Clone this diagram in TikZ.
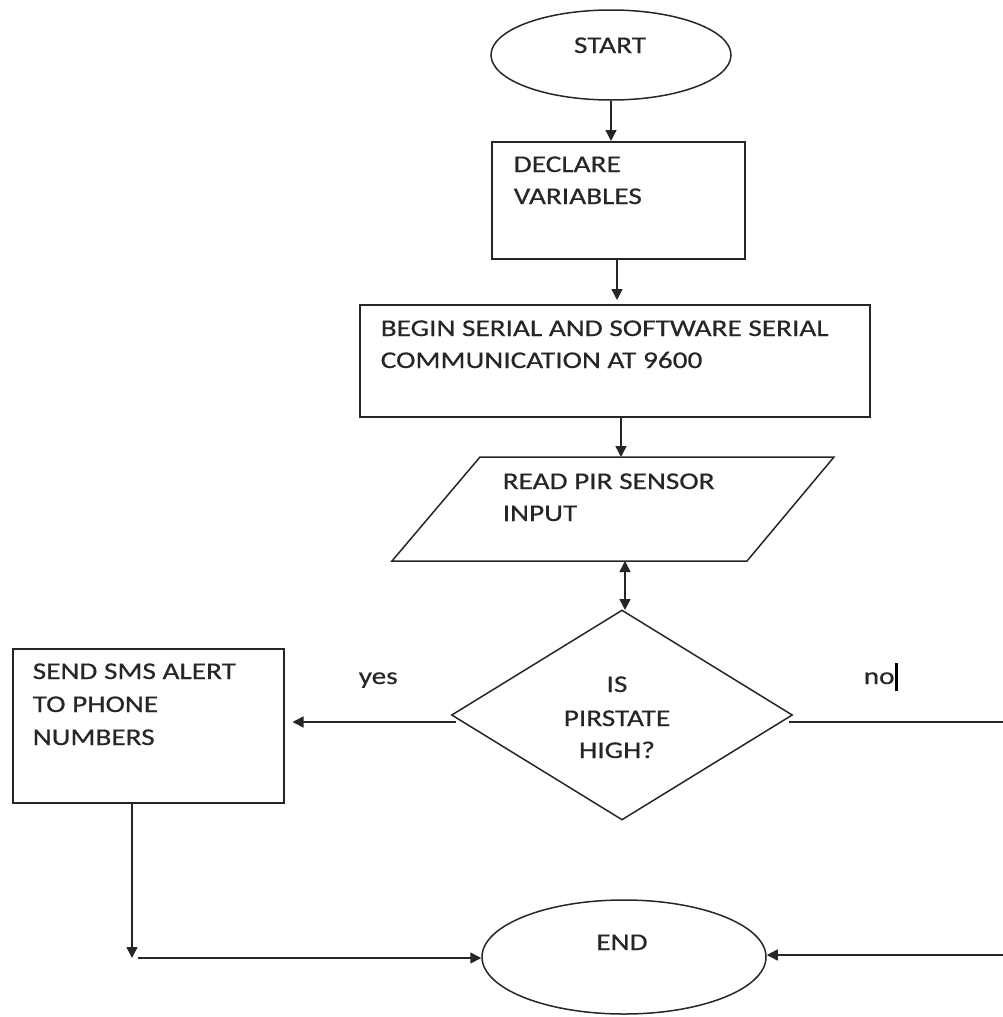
\documentclass[tikz,border=0pt]{standalone}
\usepackage{fontspec}
\setmainfont{Carlito}[FakeStretch=1.22,FakeBold=0.5]
\usetikzlibrary{shapes.geometric,arrows.meta}
\begin{document}
\begin{tikzpicture}[x=1pt,y=-1pt,
  line width=1.5pt, draw=black!85,
  >={Triangle[length=11pt,width=11pt]},
  boxnode/.style={draw=black!85, rectangle, anchor=north west, inner sep=0pt},
  term/.style={draw=black!85, ellipse, inner sep=0pt},
  lbl/.style={font=\fontsize{24}{30}\selectfont, anchor=base west, inner sep=0pt, text=black!85},
  clbl/.style={lbl, anchor=base},
  conn/.style={draw=black!85, line width=1.5pt}]

\useasboundingbox (0,0) rectangle (1003,1017);

% START
\node[term, minimum width=240pt, minimum height=90pt] (start) at (611,55) {};
\node[clbl] (tstart) at (610,53) {START};

% DECLARE VARIABLES
\node[boxnode, minimum width=253pt, minimum height=117pt] (declare) at (491,141) {};
\node[lbl] (tdecl1) at (513,172) {DECLARE};
\node[lbl] (tdecl2) at (513,204) {VARIABLES};

% BEGIN SERIAL
\node[boxnode, minimum width=510pt, minimum height=112pt] (begin) at (359,304) {};
\node[lbl] (tbeg1) at (380,336) {BEGIN SERIAL AND SOFTWARE SERIAL};
\node[lbl] (tbeg2) at (380,368) {COMMUNICATION AT 9600};

% READ PIR (parallelogram)
\node[minimum width=442pt, minimum height=104pt, inner sep=0pt] (read) at (613,509) {};
\draw (480,457) -- (834,457) -- (747,561) -- (392,561) -- cycle;
\node[lbl] (tread1) at (502,489) {READ PIR SENSOR};
\node[lbl] (tread2) at (502,521) {INPUT};

% Decision
\node[draw=black!85, diamond, minimum width=341pt, minimum height=210pt, inner sep=0pt] (dec) at (622,715) {};
\node[clbl] (tdec1) at (617,692) {IS};
\node[clbl] (tdec2) at (617,726) {PIRSTATE};
\node[clbl] (tdec3) at (617,758) {HIGH?};

% SMS box
\node[boxnode, minimum width=271pt, minimum height=154pt] (sms) at (12,648) {};
\node[lbl] (tsms1) at (32,679) {SEND SMS ALERT};
\node[lbl] (tsms2) at (32,712) {TO PHONE};
\node[lbl] (tsms3) at (32,745) {NUMBERS};

% END
\node[term, minimum width=284pt, minimum height=114pt] (end) at (624,957) {};
\node[clbl] (tend) at (622,950) {END};

% labels
\node[lbl] (yes) at (358,684) {yes};
\node[lbl] (no) at (863,684) {no};
\draw[line width=3pt, draw=black] (no.base east) ++(1.5,7) -- ++(0,-28);

% coordinates
\coordinate (yesstart) at (456,722);
\coordinate (nostart) at (789,722);
\coordinate (redge1) at (1003,722);
\coordinate (redge2) at (1003,955);
\coordinate (corner) at (132,958);
\coordinate (cornerb) at (138,958);
\coordinate (smsb) at (132,802);

% connectors
\draw[conn,->] (start.south) -- (start.south |- declare.north);
\draw[conn,->] (617,258) -- (617,300);
\draw[conn,->] (621,416) -- (621,457);
\draw[conn,<->] (625,561) -- (625,610);
\draw[conn,->,shorten >=8pt] (yesstart) -- (yesstart -| sms.east);
\draw[conn] (nostart) -- (redge1);
\draw[conn,->] (smsb) -- (corner);
\draw[conn,->] (cornerb) -- (cornerb -| end.west);
\draw[conn,->] (redge2) -- (redge2 -| end.east);
\end{tikzpicture}
\end{document}
